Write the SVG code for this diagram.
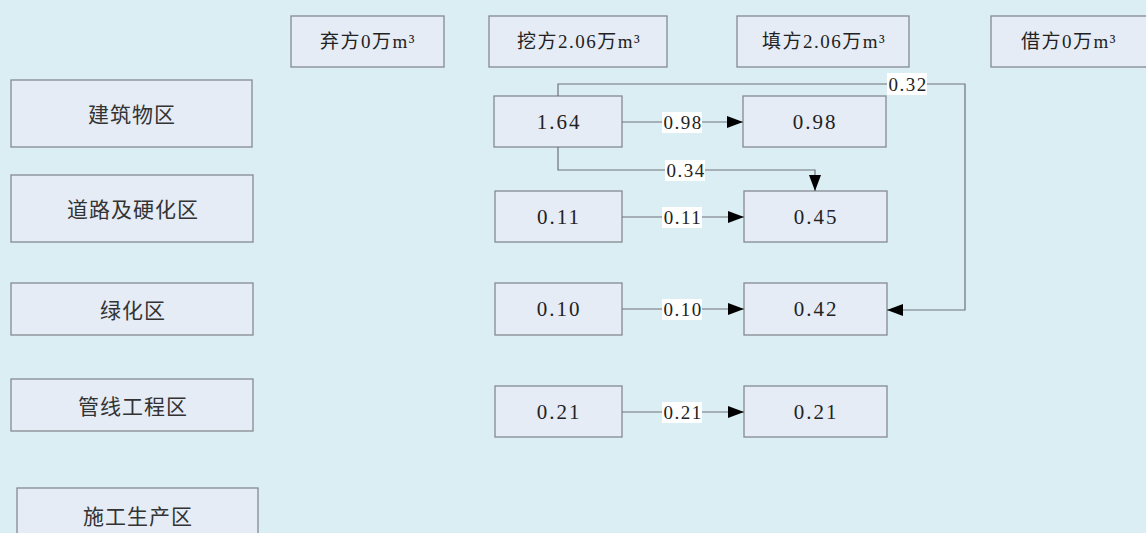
<svg xmlns="http://www.w3.org/2000/svg" width="1146" height="533" viewBox="0 0 1146 533">
<defs>
<style>
.box{fill:#e5ecf6;stroke:#858a90;stroke-width:1.3}
.t{font-family:"Liberation Serif","Noto Sans CJK SC",serif;font-size:21px;letter-spacing:2px;fill:#222;text-anchor:middle;dominant-baseline:central}
.h{font-family:"Liberation Serif","Noto Sans CJK SC",serif;font-size:19px;letter-spacing:1.5px;fill:#222;text-anchor:middle;dominant-baseline:central}
.c{font-family:"Noto Sans CJK SC",sans-serif;font-size:21px;letter-spacing:1px;fill:#333;text-anchor:middle;dominant-baseline:central}
.ln{fill:none;stroke:#6e7378;stroke-width:1.2}
.lb{fill:#ffffff}
.lt{font-family:"Liberation Serif","Noto Sans CJK SC",serif;font-size:19px;letter-spacing:1.5px;fill:#222;text-anchor:middle;dominant-baseline:central}
</style>
<marker id="ar" viewBox="0 0 16 12" refX="16" refY="6" markerWidth="16" markerHeight="12" markerUnits="userSpaceOnUse" orient="auto">
<path d="M0,0 L16,6 L0,12 Z" fill="#000"/>
</marker>
</defs>
<rect width="1146" height="533" fill="#daeef3"/>
<g id="hdr-qi"><rect class="box" x="291" y="16" width="153" height="51"/><text class="h" x="368" y="41">弃方0万m³</text></g>
<g id="hdr-wa"><rect class="box" x="489" y="16" width="178" height="51"/><text class="h" x="579" y="41">挖方2.06万m³</text></g>
<g id="hdr-tian"><rect class="box" x="737" y="16" width="172" height="51"/><text class="h" x="824" y="41">填方2.06万m³</text></g>
<g id="hdr-jie"><rect class="box" x="991" y="16" width="160" height="51"/><text class="h" x="1069" y="41">借方0万m³</text></g>

<g id="zone1"><rect class="box" x="11" y="80" width="241" height="67"/><text class="c" x="132" y="113">建筑物区</text></g>
<g id="zone2"><rect class="box" x="11" y="175" width="242" height="67"/><text class="c" x="133" y="208">道路及硬化区</text></g>
<g id="zone3"><rect class="box" x="11" y="283" width="242" height="52"/><text class="c" x="133" y="309">绿化区</text></g>
<g id="zone4"><rect class="box" x="11" y="379" width="242" height="52"/><text class="c" x="133" y="405">管线工程区</text></g>
<g id="zone5"><rect class="box" x="17" y="488" width="241" height="60"/><text class="c" x="138" y="515">施工生产区</text></g>

<g id="w1"><rect class="box" x="494" y="96" width="128" height="51"/><text class="t" x="559" y="122">1.64</text></g>
<g id="w2"><rect class="box" x="495" y="191" width="127" height="51"/><text class="t" x="559" y="217">0.11</text></g>
<g id="w3"><rect class="box" x="495" y="283" width="127" height="52"/><text class="t" x="559" y="309">0.10</text></g>
<g id="w4"><rect class="box" x="495" y="386" width="127" height="51"/><text class="t" x="559" y="412">0.21</text></g>

<g id="f1"><rect class="box" x="743" y="96" width="143" height="51"/><text class="t" x="815" y="122">0.98</text></g>
<g id="f2"><rect class="box" x="744" y="191" width="143" height="51"/><text class="t" x="816" y="217">0.45</text></g>
<g id="f3"><rect class="box" x="744" y="283" width="143" height="52"/><text class="t" x="816" y="309">0.42</text></g>
<g id="f4"><rect class="box" x="744" y="386" width="143" height="51"/><text class="t" x="816" y="412">0.21</text></g>

<g id="connectors">
<path class="ln" d="M622,122 H743" marker-end="url(#ar)"/>
<path class="ln" d="M622,217 H744" marker-end="url(#ar)"/>
<path class="ln" d="M622,309 H744" marker-end="url(#ar)"/>
<path class="ln" d="M622,412 H744" marker-end="url(#ar)"/>
<path class="ln" d="M558,147 V170 H815 V191" marker-end="url(#ar)"/>
<path class="ln" d="M558,96 V84 H965 V310 H887" marker-end="url(#ar)"/>
<rect class="lb" x="662" y="112" width="40" height="21"/><text class="lt" x="683" y="122">0.98</text>
<rect class="lb" x="662" y="207" width="40" height="21"/><text class="lt" x="683" y="217">0.11</text>
<rect class="lb" x="662" y="299" width="40" height="21"/><text class="lt" x="683" y="309">0.10</text>
<rect class="lb" x="662" y="402" width="40" height="21"/><text class="lt" x="683" y="412">0.21</text>
<rect class="lb" x="665" y="160" width="40" height="21"/><text class="lt" x="686" y="170">0.34</text>
<rect class="lb" x="887" y="73" width="40" height="22"/><text class="lt" x="908" y="84">0.32</text>
</g>
</svg>
